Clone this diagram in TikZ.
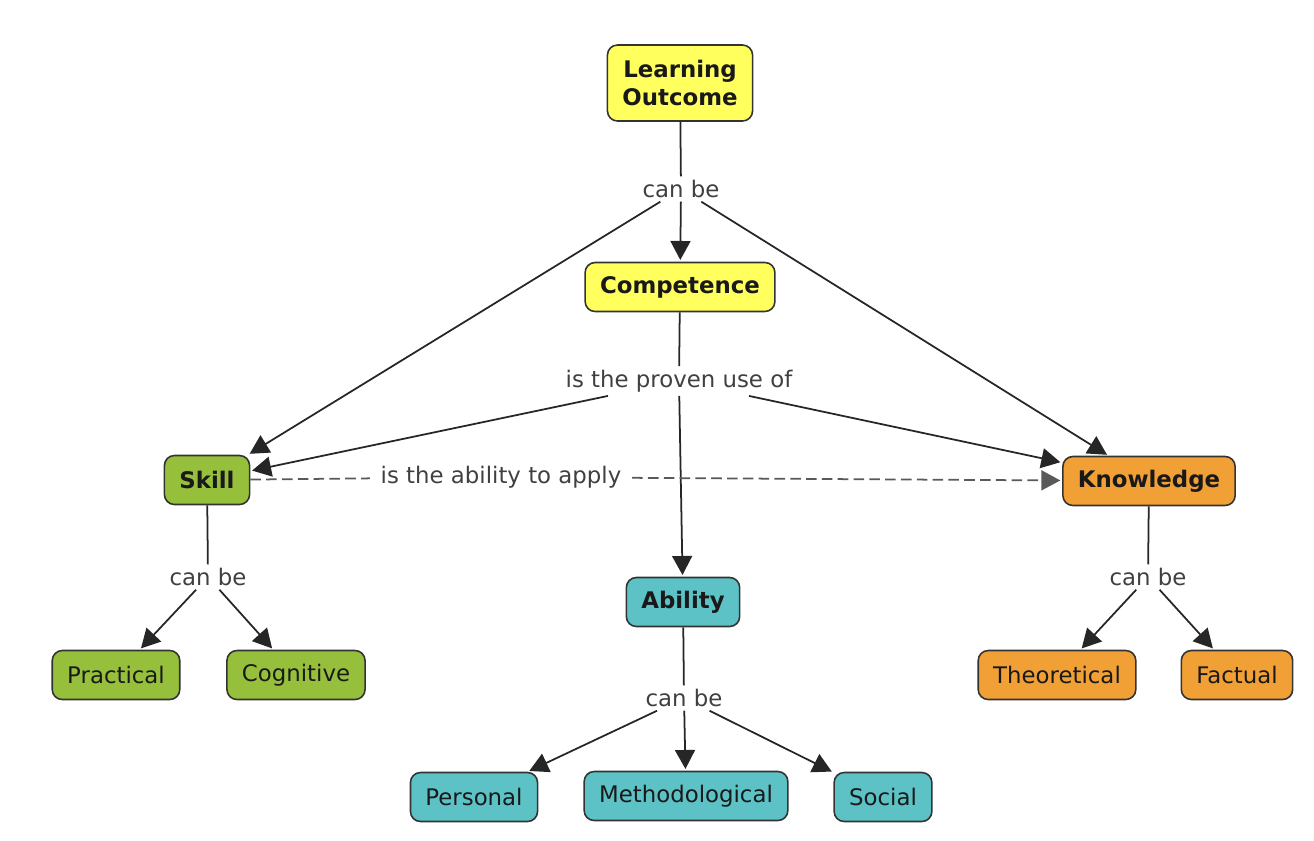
\documentclass[tikz,border=0pt]{standalone}
\usepackage{fontspec}
\setmainfont{DejaVu Sans}
\usepackage{tikz}
\usetikzlibrary{arrows.meta}

\definecolor{cyellow}{HTML}{FFFF5E}
\definecolor{cgreen}{HTML}{96C03C}
\definecolor{cteal}{HTML}{5CC2C6}
\definecolor{corange}{HTML}{F0A035}

\tikzset{
  concept/.style={draw=black!80, line width=0.9pt, rounded corners=2mm,
    inner xsep=0.3cm, minimum height=0.98cm, text=black!90,
    font=\fontsize{13}{15.9}\selectfont},
  bold/.style={font=\fontsize{13}{15.9}\selectfont\bfseries},
  linklabel/.style={inner sep=2pt, text=black!75,
    font=\fontsize{13}{15.9}\selectfont},
  link/.style={draw=black!85, line width=1pt},
  arr/.style={link, -{Triangle[length=3.8mm,width=4mm]}, shorten >=1pt},
  dashlink/.style={dash pattern=on 6pt off 3pt, draw=black!65},
}

\begin{document}
\begin{tikzpicture}[x=0.02cm, y=-0.02cm]
\useasboundingbox (0,0) rectangle (1314,840);

% concepts
\node[concept, bold, fill=cyellow, align=center, minimum height=1.52cm] (outcome) at (680,83) {Learning\\Outcome};
\node[concept, bold, fill=cyellow] (competence) at (680,287) {Competence};
\node[concept, bold, fill=cgreen] (skill) at (207,480) {Skill};
\node[concept, bold, fill=corange] (knowledge) at (1149,481) {Knowledge};
\node[concept, bold, fill=cteal] (ability) at (683,602) {Ability};

\node[concept, fill=cgreen] (practical) at (116,675) {Practical};
\node[concept, fill=cgreen] (cognitive) at (296,675) {Cognitive};
\node[concept, fill=cteal] (personal) at (474,797) {Personal};
\node[concept, fill=cteal] (method) at (686,796) {Methodological};
\node[concept, fill=cteal] (social) at (883,797) {Social};
\node[concept, fill=corange] (theoretical) at (1057,675) {Theoretical};
\node[concept, fill=corange] (factual) at (1237,675) {Factual};

% link phrases
\node[linklabel] (canbe) at (681,189) {can be};
\node[linklabel] (provenuse) at (679,381) {is the proven use of};
\node[linklabel, inner xsep=6pt] (applies) at (501,477) {is the ability to apply};
\node[linklabel] (skillcan) at (208,577) {can be};
\node[linklabel] (abilitycan) at (684,698) {can be};
\node[linklabel] (knowcan) at (1148,577) {can be};

\draw[link] (outcome) -- (canbe);
\draw[arr] (canbe) -- (competence);
\draw[arr] (canbe) -- (skill);
\draw[arr] (canbe) -- (knowledge);

\draw[link] (competence) -- (provenuse);
\draw[arr] (provenuse) -- (skill);
\draw[arr] (provenuse) -- (knowledge);
\draw[arr] (provenuse) -- (ability);

\draw[link, dashlink] (skill) -- (applies);
\draw[arr, dashlink] (applies) -- (knowledge);

\draw[link] (skill) -- (skillcan);
\draw[arr] (skillcan) -- (practical);
\draw[arr] (skillcan) -- (cognitive);

\draw[link] (ability) -- (abilitycan);
\draw[arr] (abilitycan) -- (personal);
\draw[arr] (abilitycan) -- (method);
\draw[arr] (abilitycan) -- (social);

\draw[link] (knowledge) -- (knowcan);
\draw[arr] (knowcan) -- (theoretical);
\draw[arr] (knowcan) -- (factual);

\end{tikzpicture}
\end{document}
